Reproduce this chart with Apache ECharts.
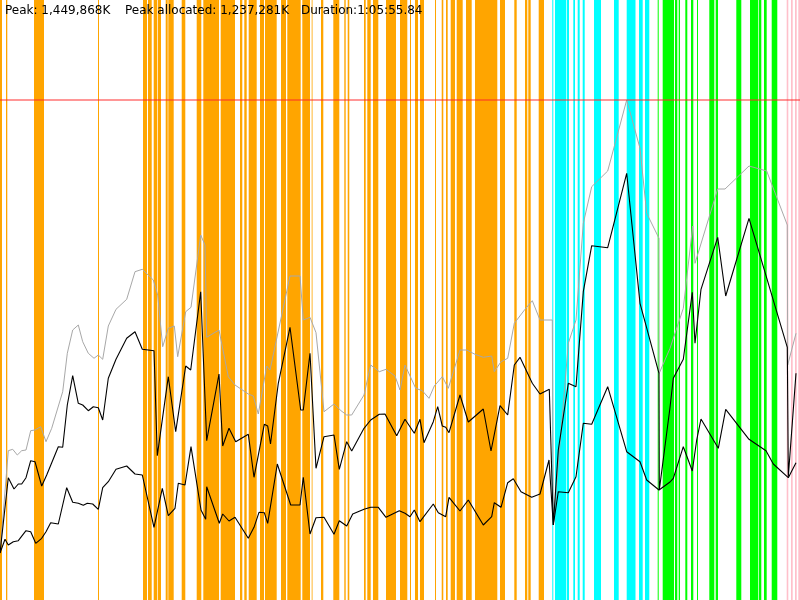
<!DOCTYPE html>
<html>
<head>
<meta charset="utf-8">
<script src="https://cdn.jsdelivr.net/npm/echarts@6/dist/echarts.min.js"></script>
<style>html,body{margin:0;padding:0;background:#fff}#c{width:800px;height:600px}</style>
</head>
<body>
<div id="c"></div>
<script>
// Time axis: 0..800 units over the run; memory axis in units of ~2,899.7K (0..600)
const peakLevel = 500; // Peak: 1,449,868K
const headerTexts = ['Peak: 1,449,868K', 'Peak allocated: 1,237,281K', 'Duration:1:05:55.84'];

// Heap size (gray)
const heapSize = [[0,47],[2,47],[8.3,149.3],[12.7,150.7],[17.3,145],[21.7,149.3],[26,150],[30.7,169.3],[35,170],[40.7,173.3],[46,158.3],[51.7,171.7],[62.7,208.3],[67.3,246.7],[72.7,270],[78.3,275],[82.7,258.3],[88.3,246.7],[94,241.7],[98.3,245],[102.7,240.7],[108.3,274],[116,290.7],[126.7,300.7],[135,328.3],[142.3,330.7],[153.3,320],[157.7,305],[162.7,253.3],[168.3,271.7],[174.3,274],[177.7,243.3],[185.7,288.3],[191,292.7],[200.7,365],[205,355],[206.7,262.7],[219,270],[228.3,223.3],[235,215],[248.3,206],[253.3,204],[258.3,186],[266.7,234],[270,230],[290,324],[300,324],[303.3,280],[310,282.7],[316,267.3],[324,188.3],[334,196],[341,189.3],[346.7,185],[351.7,185],[364,205],[370.7,235],[379.3,228.3],[386,230.7],[395,224],[400,210],[405,235],[415.7,211.7],[422.3,209.3],[429,201.7],[434.3,214],[442.3,223.3],[448.3,211.7],[460,250],[466.7,250],[475,245.7],[483.3,242.7],[491.7,244],[494.3,228.3],[501,238.3],[507.7,241.7],[514.3,276.7],[525,290.7],[532.3,299.3],[540,280],[552.3,280],[553.3,75],[568.3,256.7],[576,280],[583.3,376.7],[591.7,413.3],[607.7,429],[626.7,500],[640,451.7],[646.7,386.7],[659,361.7],[659.2,226.7],[670,251.7],[683.3,291.7],[692.7,374],[695,336.7],[717.7,411],[725,411],[749,434],[766.7,429],[787.3,375],[787.7,235],[796,266.7]];

// Used before collection (upper black)
const usedBefore = [[0,47],[2,47],[8.3,122.3],[14,111],[18.3,116],[21.7,116],[26,122.3],[30.7,139.3],[35,138.3],[41.7,114],[46.7,125],[58.3,153.3],[62.7,152.7],[67.3,195],[72.7,224.3],[78.3,196.7],[82.7,195],[88.3,189.3],[93.3,193.3],[98.3,192.3],[102.7,180],[108.3,221.7],[116,240.7],[126.7,261.7],[135,268.3],[142.3,250.7],[154,249.3],[157.3,144.3],[168.3,223.3],[175.7,168.3],[185.7,234],[190.7,230],[200.7,308.3],[206.7,159.3],[219,226],[222.7,154],[229,171.7],[235.7,158.3],[248.3,165.7],[254,122.7],[264.3,175.7],[267.7,174],[270.5,156],[278.3,216.7],[290,272.7],[300.7,190],[303.3,190],[310,246.7],[316,131.7],[324,163.3],[334,165],[339.3,130.7],[346.7,158.3],[351.7,149],[364,171.7],[370.7,180],[379.3,185.7],[385,186],[396.7,164.3],[405,180.7],[414.3,166.7],[420,180.7],[424,157.3],[433.3,178.3],[437.7,193.3],[442.3,174],[445.7,172.7],[449,167.3],[460,205],[468.3,178],[483.3,191],[491,149],[500,194.3],[507.7,185],[514.3,235],[520,242.7],[532.3,216.7],[540,206],[549.3,210.7],[553.3,75],[558.3,150],[568.3,216.7],[576,213.3],[583.3,308.3],[591.7,354.3],[607.7,352.3],[626.7,426.7],[640,296.7],[659,226.7],[659.3,110],[670,192.5],[673.3,221.7],[683.3,240.7],[692.3,307.7],[695,256.7],[701,310.7],[717.7,362.7],[725.7,304],[749,381.7],[787.3,252.7],[788.3,123.3],[796,226.7]];

// Used after collection (lower black)
const usedAfter = [[0,47],[2,47],[5,60.7],[8.3,55],[13.3,58.3],[18.3,59.3],[26,69.3],[30.7,68.3],[35.7,56.7],[41.7,61.7],[46,68.3],[50.7,77.3],[58.3,76],[66.7,112.3],[72.7,97.7],[78.3,96.7],[83.3,94.7],[87.3,96.7],[92.7,96],[98.3,90.7],[102.7,112.3],[108.3,118.3],[116,130.7],[126.7,134],[135,126],[142.3,125],[154,72.7],[162.3,111.7],[168.3,84.3],[175,91.7],[178.3,116.7],[185,115],[191,153.3],[201,90],[205.7,80.7],[206.7,113.3],[219.3,76.7],[222.7,86],[229,79],[235,82.7],[248.3,61.7],[254,72.7],[259,87.7],[264.3,87.3],[267.7,76.7],[277.3,136],[290.7,95],[300,95],[303.3,122.7],[310,66],[316,82.3],[324,82.7],[334,65.7],[339.3,79.3],[346.7,74],[352.7,86],[364,90.7],[370.7,92.7],[378.3,92.7],[386,82.7],[399.3,89.3],[405,86.7],[410,83.3],[414.3,90],[420,78.3],[433.3,96],[438.3,87.3],[445.7,83.3],[449,102.7],[460,89],[468.3,100],[483.3,75],[491.7,83.3],[494.3,97.3],[501,92.7],[507.7,117.3],[513.3,121.3],[521,108.3],[531.7,102.7],[540,106],[549,140],[553.3,75],[558.3,108.3],[568.3,107.3],[576,123.3],[583.3,176.7],[591.7,175.7],[607.7,213.3],[626.7,148.3],[640,138.3],[646.7,120],[659,110],[670,118],[673.3,121.7],[683.3,153.3],[692.3,129],[696.7,160],[701,181],[718.3,151.7],[725.7,190.7],[749,160.7],[766,149.3],[773.3,136],[788.3,122.3],[796,137.3]];

// Collection events: [start, end] on the time axis
const orangeEvents = [[0,2],[6,7.3],[34,44],[98,99],[143,147],[148,151.7],[153.7,157.3],[158,161],[165.7,167.7],[168.3,173.7],[181.7,185.3],[196.7,201.3],[203.3,219],[220.7,235],[240,242.3],[244.3,246.7],[248.7,256.7],[260,264],[265,276.7],[281,286],[287.3,300.7],[302.3,310],[311.7,312.5],[321,323.3],[333.3,339.3],[344.3,345.7],[347.7,349.3],[364,365.7],[367.3,370.7],[373,378.3],[386,396],[400,407.3],[410,411],[415,418],[420,424],[435,436],[441.7,443.3],[446,447.7],[450.7,455],[456.7,462.7],[466,471.7],[475,497.3],[500,505],[514.3,516.7],[525,527.3],[528.3,530.7],[538.7,544]];
const cyanEvents = [[552.3,553.3],[555,566],[566.7,569],[573.3,575],[577.7,579.7],[582.7,584.7],[594,601],[614,618.7],[626.7,635.5],[639,642.7],[645,649.3]];
const greenEvents = [[657.7,658.7],[662.7,674],[675,677.3],[678.7,680],[685.3,687.3],[691,693.3],[697,698],[709.3,714.3],[715.7,718],[736.3,741.3],[750,758.3],[759,761.3],[764,766.7],[771.7,777.3]];
const pinkEvents = [[786.7,788.3],[791,792.7],[795,796.7],[798.3,800]];

function eventSeries(data, color) {
  return {
    type: 'line', data: [], silent: true, z: 1, symbol: 'none',
    markArea: {
      silent: true,
      itemStyle: { color: color, opacity: 1, borderWidth: 0 },
      data: data.map(function (d) { return [{ xAxis: d[0] }, { xAxis: d[1] }]; })
    }
  };
}
function lineSeries(data, color, width) {
  return { type: 'line', data: data, symbol: 'none', silent: true, z: 3,
    lineStyle: { color: color, width: width }, itemStyle: { color: color } };
}

const chart = echarts.init(document.getElementById('c'), null, { renderer: 'canvas' });
const headerX = [5, 125, 301];
chart.setOption({
  animation: false,
  backgroundColor: '#fff',
  grid: { left: 0, right: 0, top: 0, bottom: 0 },
  xAxis: { type: 'value', min: 0, max: 800, show: false },
  yAxis: { type: 'value', min: 0, max: 600, show: false, splitLine: { show: false } },
  series: [
    eventSeries(orangeEvents, '#FFA500'),
    eventSeries(cyanEvents, '#00FFFF'),
    eventSeries(greenEvents, '#00FF00'),
    eventSeries(pinkEvents, '#FFC0CB'),
    { type: 'line', data: [[0, peakLevel], [800, peakLevel]], symbol: 'none', silent: true, z: 4,
      lineStyle: { color: 'rgba(255,40,40,0.65)', width: 1.5 } },
    lineSeries(heapSize, '#a8a8a8', 1),
    lineSeries(usedBefore, '#000000', 1.1),
    lineSeries(usedAfter, '#000000', 1.1)
  ],
  graphic: headerTexts.map(function (t, i) {
    return { type: 'text', left: headerX[i], top: 5, z: 10,
      style: { text: t, fill: '#000', font: '12px "DejaVu Sans", sans-serif' } };
  })
});
</script>
</body>
</html>
